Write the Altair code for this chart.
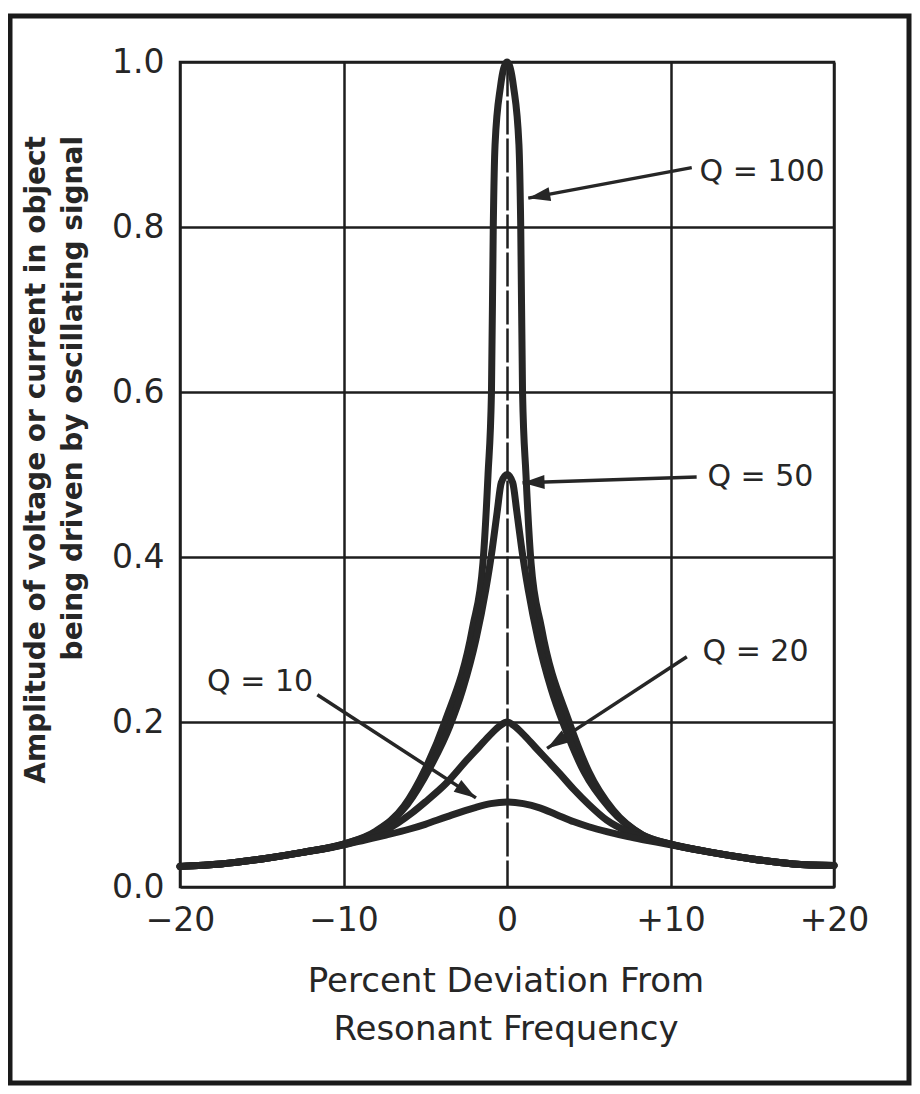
import math
import altair as alt
import pandas as pd

# ---------------- data ----------------
X_TICKS = [-20, -10, 0, 10, 20]
Y_TICKS = [0.0, 0.2, 0.4, 0.6, 0.8, 1.0]

Q100_X = [-20, -17.5, -15, -12.5, -10, -8, -6.3, -5, -3.8, -2.1, -1.47, -1.16, -0.95, -0.84, -0.73, -0.4, 0,
          0.4, 0.73, 0.84, 0.95, 1.16, 1.47, 2.1, 3.8, 5, 6.5, 8.3, 10, 12.5, 15, 17.5, 20]
Q100_Y = [0.025, 0.028, 0.034, 0.042, 0.052, 0.068, 0.098, 0.143, 0.2, 0.315, 0.393, 0.5, 0.6, 0.8, 0.9, 0.97, 1.0,
          0.97, 0.9, 0.8, 0.6, 0.5, 0.393, 0.315, 0.2, 0.14, 0.093, 0.063, 0.052, 0.042, 0.034, 0.028, 0.026]

Q50_X = [-20, -17.5, -15, -12.5, -10, -7.9, -6.1, -4.7, -3.5, -2.7, -1.9, -1.3, -0.9, -0.6, -0.35, 0,
         0.35, 0.6, 0.9, 1.3, 1.9, 2.7, 3.5, 4.7, 6.3, 8.2, 10, 12.5, 15, 17.5, 20]
Q50_Y = [0.025, 0.028, 0.034, 0.042, 0.052, 0.068, 0.1, 0.145, 0.195, 0.24, 0.3, 0.36, 0.41, 0.455, 0.49, 0.5,
         0.49, 0.455, 0.41, 0.36, 0.3, 0.24, 0.195, 0.14, 0.095, 0.064, 0.052, 0.042, 0.034, 0.028, 0.026]

Q20_X = [-20, -17.5, -15, -12.5, -10, -8.7, -7.4, -5.8, -5, -3.7, -2.45, -1.7, -1, -0.4, 0,
         0.4, 1, 1.7, 2.45, 3.2, 4.1, 5, 6.1, 7.4, 8.7, 10, 12.5, 15, 17.5, 20]
Q20_Y = [0.025, 0.028, 0.034, 0.042, 0.051, 0.059, 0.069, 0.09, 0.103, 0.126, 0.154, 0.17, 0.185, 0.196, 0.2,
         0.196, 0.185, 0.17, 0.154, 0.138, 0.118, 0.1, 0.081, 0.067, 0.058, 0.052, 0.042, 0.034, 0.028, 0.026]

Q10_X = [-20, -17.5, -15, -12.5, -10, -8.7, -7.4, -6, -5, -3.7, -2, -1, 0,
         1, 2, 3, 4.1, 5, 6.1, 7.4, 8.7, 10, 12.5, 15, 17.5, 20]
Q10_Y = [0.025, 0.028, 0.034, 0.042, 0.051, 0.057, 0.063, 0.07, 0.076, 0.085, 0.096, 0.101, 0.103,
         0.101, 0.096, 0.088, 0.079, 0.073, 0.067, 0.061, 0.056, 0.051, 0.042, 0.034, 0.028, 0.026]

SERIES_NAMES = ["Q = 100", "Q = 50", "Q = 20", "Q = 10"]
SERIES_X = [Q100_X, Q50_X, Q20_X, Q10_X]
SERIES_Y = [Q100_Y, Q50_Y, Q20_Y, Q10_Y]

# annotation label positions (data units) and arrow start / tip (data units)
LABEL_X = [15.6, 15.5, 15.2, -15.1]
LABEL_Y = [0.867, 0.497, 0.285, 0.248]
ARROW_SX = [11.3, 11.6, 11.0, -11.6]
ARROW_SY = [0.872, 0.497, 0.279, 0.233]
ARROW_TX = [1.3, 0.95, 2.45, -1.9]
ARROW_TY = [0.835, 0.490, 0.168, 0.108]

X_TITLE = ["Percent Deviation From", "Resonant Frequency"]
Y_TITLE = ["Amplitude of voltage or current in object", "being driven by oscillating signal"]

# ---------------- layout ----------------
W, H = 654, 825
PAD_L, PAD_T = 172, 54
TOTAL_W, TOTAL_H = 904, 1078
INK = "#262626"
FONT = "DejaVu Sans"

rows = []
for name, xs_, ys_ in zip(SERIES_NAMES, SERIES_X, SERIES_Y):
    for i, (xv, yv) in enumerate(zip(xs_, ys_)):
        rows.append({"series": name, "x": xv, "y": yv, "order": i})
df = pd.DataFrame(rows)

xsc = alt.Scale(domain=[-20, 20], nice=False, zero=False)
ysc = alt.Scale(domain=[0, 1], nice=False)

x_label_expr = "datum.value > 0 ? '+' + datum.value : (datum.value < 0 ? '\u2212' + abs(datum.value) : '0')"

curves = alt.Chart(df).mark_line(
    color=INK, strokeWidth=7, interpolate="monotone", strokeCap="round", strokeJoin="round"
).encode(
    x=alt.X("x:Q", scale=xsc, title=None, axis=alt.Axis(
        values=X_TICKS, labelExpr=x_label_expr, grid=True, domain=False, ticks=False,
        labelFont=FONT, labelFontSize=33, labelColor=INK, labelPadding=17,
        gridColor="#1e1e1e", gridWidth=2.5, gridOpacity=1,
        gridDash={"condition": {"test": "datum.value === 0", "value": [34, 4]}, "value": []},
        labelFlush=False)),
    y=alt.Y("y:Q", scale=ysc, title=None, axis=alt.Axis(
        values=Y_TICKS, format=".1f", grid=True, domain=False, ticks=False,
        labelFont=FONT, labelFontSize=33, labelColor=INK, labelPadding=16,
        gridColor="#1e1e1e", gridWidth=2.5, gridOpacity=1, labelFlush=False)),
    detail="series:N",
    order="order:Q",
)

lab_df = pd.DataFrame({"t": SERIES_NAMES, "lx": LABEL_X, "ly": LABEL_Y})
labels = alt.Chart(lab_df).mark_text(
    font=FONT, fontSize=30, color=INK, align="center", baseline="middle"
).encode(x=alt.X("lx:Q", title=None), y=alt.Y("ly:Q", title=None), text="t:N")

angles = []
for sx, sy, tx, ty in zip(ARROW_SX, ARROW_SY, ARROW_TX, ARROW_TY):
    dx = (tx - sx) * W / 40.0
    dy = -(ty - sy) * H
    angles.append(math.degrees(math.atan2(dx, -dy)) % 360)

arr_df = pd.DataFrame({"sx": ARROW_SX, "sy": ARROW_SY, "tx": ARROW_TX, "ty": ARROW_TY, "ang": angles})
arrow_lines = alt.Chart(arr_df).mark_rule(color=INK, strokeWidth=3.5).encode(
    x=alt.X("sx:Q", title=None), y=alt.Y("sy:Q", title=None),
    x2=alt.X2("tx", title=None), y2=alt.Y2("ty", title=None))
arrow_heads = alt.Chart(arr_df).mark_point(
    shape="M0,0L-0.7,2.2L0.7,2.2Z", filled=True, size=400, color=INK, opacity=1, strokeWidth=0
).encode(x=alt.X("tx:Q", title=None), y=alt.Y("ty:Q", title=None),
         angle=alt.Angle("ang:Q", scale=None))

# axis titles as text
yt_df = pd.DataFrame({"t": Y_TITLE, "px": [-143, -106]})
y_title = alt.Chart(yt_df).mark_text(
    font=FONT, fontSize=28, fontWeight="bold", color=INK, angle=270, align="right", baseline="middle"
).encode(x=alt.X("px:Q", scale=None), y=alt.value(74), text="t:N")

xt_df = pd.DataFrame({"t": X_TITLE, "py": [930, 978]})
x_title = alt.Chart(xt_df).mark_text(
    font=FONT, fontSize=34, color=INK, align="center", baseline="alphabetic"
).encode(x=alt.value(326), y=alt.Y("py:Q", scale=None), text="t:N")

frame = alt.Chart(pd.DataFrame({"a": [0]})).mark_rect(
    fillOpacity=0, stroke="#1a1a1a", strokeWidth=5
).encode(x=alt.value(-170), x2=alt.value(729), y=alt.value(-46), y2=alt.value(1021))

chart = alt.layer(curves, arrow_lines, arrow_heads, labels, y_title, x_title, frame).properties(
    width=W, height=H,
    autosize=alt.AutoSizeParams(type="none"),
    padding={"left": PAD_L, "top": PAD_T, "right": TOTAL_W - PAD_L - W, "bottom": TOTAL_H - PAD_T - H},
    background="white",
).configure_view(stroke="#1a1a1a", strokeWidth=2.5)

chart.save("out.html", embed_options={"renderer": "svg", "actions": False})
